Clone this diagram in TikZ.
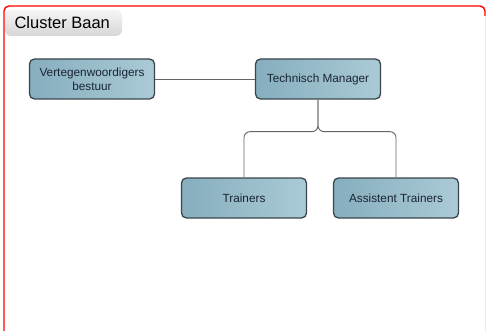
\documentclass[tikz,border=0pt]{standalone}
\usepackage{fontspec}
\setmainfont{Liberation Sans}
\usetikzlibrary{positioning}

\definecolor{boxleft}{RGB}{134,174,190}
\definecolor{boxright}{RGB}{170,202,214}
\definecolor{boxline}{RGB}{58,70,76}
\definecolor{boxtext}{RGB}{26,36,52}
\definecolor{linkgray}{RGB}{100,100,100}

\tikzset{
  unit/.style={draw=boxline,line width=1.3pt,rounded corners=5pt,
    left color=boxleft,right color=boxright,text=boxtext,
    minimum width=125pt,minimum height=40pt,align=center,
    font=\fontsize{11.8}{14}\selectfont,inner sep=2pt},
  link/.style={draw=linkgray,line width=0.9pt,rounded corners=6pt}
}

\begin{document}
\begin{tikzpicture}[x=1pt,y=-1pt]

\useasboundingbox (0,0) rectangle (486,331);
\fill[white] (0,0) rectangle (486,331);

% frame
\draw[color=red,line width=1.4pt,rounded corners=5pt] (4,340) -- (4,6) -- (485,6) -- (485,16);
\draw[color=black!8,line width=0.8pt] (485,16) -- (485,331);

% tab
\shade[top color=black!4,bottom color=black!16,rounded corners=6pt]
  (5,36) -- (5,10) -- (122,10) -- (122,36) -- cycle;
\node[anchor=west,font=\fontsize{16.5}{19}\selectfont] (title) at (11,23) {Cluster Baan};

% boxes
\node[unit] (bestuur) at (92,79) {Vertegenwoordigers\\bestuur};
\node[unit] (manager) at (318,79) {Technisch Manager};
\node[unit] (trainers) at (244,198) {Trainers};
\node[unit] (assist) at (396,198) {Assistent Trainers};

% lines
\draw[link] (bestuur) -- (manager);
\draw[link] (manager.south) -- ++(0,32) -| (trainers.north);
\draw[link] (manager.south) -- ++(0,32) -| (assist.north);

\end{tikzpicture}
\end{document}
